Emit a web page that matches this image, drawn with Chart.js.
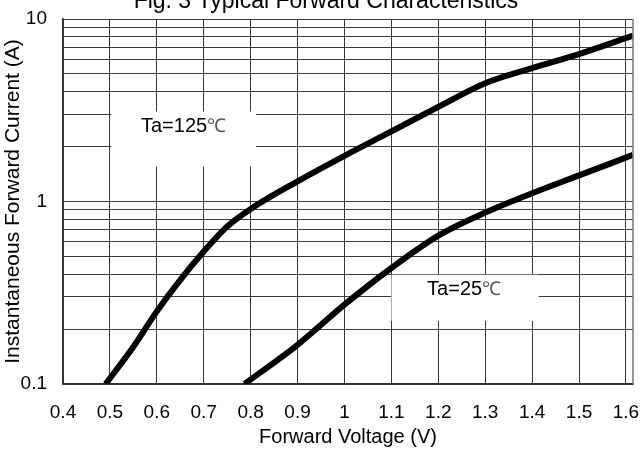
<!DOCTYPE html>
<html>
<head>
<meta charset="utf-8">
<script src="https://cdn.jsdelivr.net/npm/chart.js@4.4.1/dist/chart.umd.min.js"></script>
<style>
  body { margin: 0; background: #fff; }
  #wrap { width: 641px; height: 456px; }
</style>
</head>
<body>
<div id="wrap"><canvas id="fig3" width="641" height="456"></canvas></div>
<script>
// values
const xTicks = [0.4, 0.5, 0.6, 0.7, 0.8, 0.9, 1.0, 1.1, 1.2, 1.3, 1.4, 1.5, 1.6];
const yGrid = [0.1, 0.2, 0.3, 0.4, 0.5, 0.6, 0.7, 0.8, 0.9, 1, 2, 3, 4, 5, 6, 7, 8, 9, 10];
const yLabels = [0.1, 1, 10];

const volt125 = [0.491, 0.55, 0.6, 0.65, 0.7, 0.75, 0.8, 0.9, 1.0, 1.1, 1.2, 1.3, 1.4, 1.5, 1.615];
const amp125 = [0.1, 0.16, 0.25, 0.372, 0.532, 0.73, 0.91, 1.29, 1.78, 2.42, 3.3, 4.45, 5.38, 6.42, 8.1];

const volt25 = [0.787, 0.9, 1.0, 1.1, 1.2, 1.3, 1.4, 1.5, 1.615];
const amp25 = [0.1, 0.164, 0.272, 0.432, 0.65, 0.87, 1.11, 1.39, 1.8];

const FONT = "Arial, 'Liberation Sans', sans-serif";

function toPoints(xs, ys) {
    return xs.map((x, i) => ({ x: x, y: ys[i] }));
}

// white label boxes sitting on the grid, placed in data units
const notes = [
    { text: 'Ta=125', box: [0.503, 0.812, 3.11, 1.556], at: [0.657, 2.57] },
    { text: 'Ta=25', box: [1.100, 1.414, 0.397, 0.222], at: [1.255, 0.328] }
];

const notePlugin = {
    id: 'notes',
    beforeDatasetsDraw(chart) {
        const ctx = chart.ctx;
        const xs = chart.scales.x, ys = chart.scales.y;
        ctx.save();
        notes.forEach(n => {
            const x0 = xs.getPixelForValue(n.box[0]);
            const x1 = xs.getPixelForValue(n.box[1]);
            const y0 = ys.getPixelForValue(n.box[2]);
            const y1 = ys.getPixelForValue(n.box[3]);
            ctx.fillStyle = '#fff';
            ctx.fillRect(x0, y0, x1 - x0, y1 - y0);

            ctx.font = '20px ' + FONT;
            const w1 = ctx.measureText(n.text).width;
            ctx.font = '19px ' + FONT;
            const w2 = ctx.measureText('\u2103').width;
            const cx = xs.getPixelForValue(n.at[0]);
            const cy = ys.getPixelForValue(n.at[1]);
            let left = cx - (w1 + w2) / 2;
            ctx.textBaseline = 'middle';
            ctx.textAlign = 'left';
            ctx.fillStyle = '#000';
            ctx.font = '20px ' + FONT;
            ctx.fillText(n.text, left, cy);
            ctx.fillStyle = '#555';
            ctx.font = '19px ' + FONT;
            ctx.fillText('\u2103', left + w1, cy);
        });
        ctx.restore();
    },
    afterDraw(chart) {
        const ctx = chart.ctx;
        const a = chart.chartArea;
        ctx.save();
        // right edge of the frame
        ctx.strokeStyle = '#777';
        ctx.lineWidth = 1.5;
        ctx.beginPath();
        ctx.moveTo(a.right, a.top);
        ctx.lineTo(a.right, a.bottom);
        ctx.stroke();
        // title, cut at the top as in the figure
        ctx.fillStyle = '#000';
        ctx.font = '23px ' + FONT;
        ctx.textAlign = 'center';
        ctx.textBaseline = 'alphabetic';
        ctx.fillText('Fig. 3 Typical Forward Characteristics', 326, 8);
        ctx.restore();
    }
};

const curve = {
    borderColor: '#000',
    borderWidth: 6,
    pointRadius: 0,
    fill: false,
    cubicInterpolationMode: 'monotone',
    borderCapStyle: 'butt'
};

new Chart(document.getElementById('fig3'), {
    type: 'line',
    data: {
        datasets: [
            Object.assign({ label: 'Ta=125', data: toPoints(volt125, amp125) }, curve),
            Object.assign({ label: 'Ta=25', data: toPoints(volt25, amp25) }, curve)
        ]
    },
    options: {
        responsive: false,
        animation: false,
        layout: { padding: { top: 19, right: 8, left: 0, bottom: 0 } },
        plugins: {
            legend: { display: false },
            tooltip: { enabled: false }
        },
        scales: {
            x: {
                type: 'linear',
                min: 0.4,
                max: 1.615,
                afterBuildTicks: s => { s.ticks = xTicks.map(v => ({ value: v })); },
                afterFit: s => { s.height = 72; s.paddingLeft = 0; s.paddingRight = 0; },
                grid: { color: '#3a3a3a', lineWidth: 1, drawTicks: false },
                border: { color: '#333', width: 1.5 },
                ticks: {
                    autoSkip: false,
                    maxRotation: 0,
                    padding: 17,
                    color: '#000',
                    font: { family: FONT, size: 19 },
                    callback: v => String(Math.round(v * 10) / 10)
                },
                title: {
                    display: true,
                    text: 'Forward Voltage (V)',
                    color: '#000',
                    font: { family: FONT, size: 20 },
                    padding: { top: 0, bottom: 7 }
                }
            },
            y: {
                type: 'logarithmic',
                min: 0.1,
                max: 10,
                afterBuildTicks: s => { s.ticks = yGrid.map(v => ({ value: v })); },
                afterFit: s => { s.width = 63; s.paddingTop = 0; s.paddingBottom = 0; },
                grid: { color: '#3a3a3a', lineWidth: 1, drawTicks: false },
                border: { color: '#333', width: 1.5 },
                ticks: {
                    autoSkip: false,
                    padding: 16,
                    color: '#000',
                    font: { family: FONT, size: 19 },
                    callback: v => yLabels.some(l => Math.abs(l - v) < 1e-9) ? String(v) : ''
                },
                title: {
                    display: true,
                    text: 'Instantaneous Forward Current (A)',
                    color: '#000',
                    font: { family: FONT, size: 21 },
                    padding: { top: 1, bottom: 0 }
                }
            }
        }
    },
    plugins: [notePlugin]
});
</script>
</body>
</html>
